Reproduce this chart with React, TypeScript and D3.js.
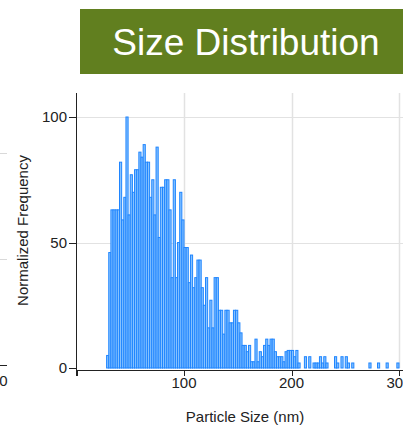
import React from "react";
import * as d3 from "d3";

const TITLE = "Size Distribution";
const X_LABEL = "Particle Size (nm)";
const Y_LABEL = "Normalized Frequency";
const BIN_START = 28;
const BIN_WIDTH = 2;
const X_TICKS = [0, 100, 200, 300];
const Y_TICKS = [0, 50, 100];
const X_GRID = [100, 200, 300];
const Y_GRID = [50, 100];
const FREQ = [
  5, 46, 63, 63, 63, 63, 82, 59, 68, 100,
  61, 77, 70, 79, 79, 86, 84, 89, 82, 82,
  68, 75, 61, 88, 52, 72, 72, 75, 75, 63,
  36, 75, 36, 50, 70, 59, 48, 48, 34, 45,
  32, 36, 43, 43, 32, 25, 36, 16, 27, 16,
  36, 36, 23, 23, 13.5, 23, 23, 18, 18, 23,
  23, 18, 14, 9, 9, 6.5, 9, 2.5, 2.5, 11.5,
  2.5, 6.5, 4.5, 9, 11.5, 9, 11.5, 11.5, 6.5, 4.5,
  4.5, 4.5, 2.5, 6.5, 7, 7, 7, 4.5, 7, 2,
  0, 0, 4.5, 0, 4.5, 0, 2, 2, 2, 4.5,
  2, 4.5, 2, 0, 0, 0, 4.5, 2, 0, 4.5,
  0, 4.5, 2, 0, 2, 0, 0, 0, 0, 0,
  0, 0, 2, 0, 0, 0, 2, 0, 0, 0,
  2, 0, 0, 0, 0, 2,
];

export default function App() {
  const W = 403;
  const H = 426;
  const x = d3.scaleLinear().domain([0, 300]).range([76.5, 399]);
  const y = d3.scaleLinear().domain([0, 100]).range([368, 117]);
  const axisY = 370.5;
  const topY = 93;
  const font = "'Liberation Sans', Arial, sans-serif";
  const ink = "#222";

  const bins = FREQ.map((v, i) => ({ x0: BIN_START + i * BIN_WIDTH, x1: BIN_START + (i + 1) * BIN_WIDTH, v }));

  return (
    <svg width={W} height={H} style={{ position: "absolute", left: 0, top: 0, background: "#fff" }}>
      {/* left neighbour chart fragment */}
      <line x1={0} x2={7} y1={153.5} y2={153.5} stroke="#d9d9d9" />
      <line x1={0} x2={7} y1={259.5} y2={259.5} stroke="#d9d9d9" />
      <line x1={0} x2={7} y1={365.5} y2={365.5} stroke={ink} />
      <text x={3.5} y={386} fontFamily={font} fontSize={15} fill={ink} textAnchor="middle">0</text>

      {/* title box */}
      <rect x={80} y={9} width={W - 80} height={65} fill="#617f1f" />
      <text x={246} y={55} fontFamily={font} fontSize={37} fill="#fff" textAnchor="middle">{TITLE}</text>

      {/* grid */}
      {Y_GRID.map((t) => (
        <line key={"gy" + t} x1={76.5} x2={W} y1={Math.round(y(t)) + 0.5} y2={Math.round(y(t)) + 0.5} stroke="#e2e2e2" />
      ))}
      {X_GRID.map((t) => (
        <line key={"gx" + t} x1={Math.round(x(t)) + 0.5} x2={Math.round(x(t)) + 0.5} y1={topY} y2={y(0)} stroke="#e2e2e2" strokeWidth={1.5} />
      ))}

      {/* bars */}
      {bins.filter((b) => b.v > 0).map((b, i) => (
        <rect
          key={i}
          x={x(b.x0)}
          width={x(b.x1) - x(b.x0)}
          y={y(b.v)}
          height={y(0) - y(b.v)}
          fill="#86c2ff"
          stroke="#1f85ff"
          strokeWidth={1}
        />
      ))}

      {/* y axis */}
      <line x1={76.5} x2={76.5} y1={topY} y2={376} stroke={ink} />
      {Y_TICKS.map((t) => (
        <g key={"yt" + t}>
          <line x1={69} x2={76.5} y1={Math.round(y(t)) + 0.5} y2={Math.round(y(t)) + 0.5} stroke={ink} />
          <text x={67} y={y(t) + 5} fontFamily={font} fontSize={15} fill={ink} textAnchor="end">{t}</text>
        </g>
      ))}

      {/* x axis */}
      <line x1={76.5} x2={W} y1={axisY} y2={axisY} stroke={ink} />
      {X_TICKS.map((t) => (
        <g key={"xt" + t}>
          <line x1={Math.round(x(t)) + 0.5} x2={Math.round(x(t)) + 0.5} y1={axisY} y2={axisY + 5.5} stroke={ink} />
          {t > 0 && (
            <text x={x(t)} y={388} fontFamily={font} fontSize={15} fill={ink} textAnchor="middle">{t}</text>
          )}
        </g>
      ))}

      {/* axis labels */}
      <text x={245} y={422} fontFamily={font} fontSize={15} fill={ink} textAnchor="middle">{X_LABEL}</text>
      <text
        transform={`translate(27.5,230.5) rotate(-90)`}
        fontFamily={font}
        fontSize={15}
        fill={ink}
        textAnchor="middle"
      >
        {Y_LABEL}
      </text>
    </svg>
  );
}
